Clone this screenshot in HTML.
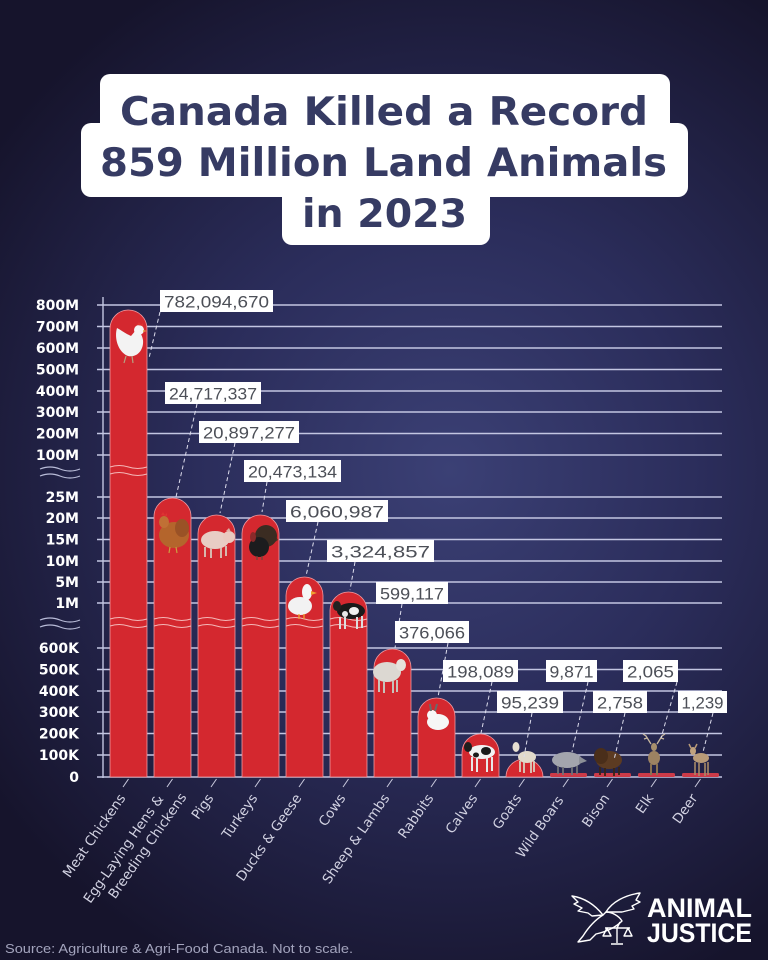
<!DOCTYPE html>
<html><head><meta charset="utf-8"><style>
html,body{margin:0;padding:0;background:#1a1838;}
svg{display:block;}
</style></head><body>
<svg width="768" height="960" viewBox="0 0 768 960" xmlns="http://www.w3.org/2000/svg">
<defs>
<radialGradient id="bg" cx="450" cy="470" r="560" gradientUnits="userSpaceOnUse">
<stop offset="0" stop-color="#3b4075"/>
<stop offset="0.45" stop-color="#2b2d5b"/>
<stop offset="1" stop-color="#16142c"/>
</radialGradient>
</defs>
<rect width="768" height="960" fill="url(#bg)"/>

<!-- Title boxes -->
<g fill="#ffffff">
<rect x="100" y="74" width="570" height="72" rx="10"/>
<rect x="81" y="123" width="607" height="74" rx="10"/>
<rect x="282" y="180" width="208" height="65" rx="10"/>
</g>
<g font-family="'DejaVu Sans','Liberation Sans',sans-serif" font-weight="bold" font-size="39" fill="#363b63">
<text x="120" y="125" textLength="528" lengthAdjust="spacingAndGlyphs">Canada Killed a Record</text>
<text x="100" y="176" textLength="567" lengthAdjust="spacingAndGlyphs">859 Million Land Animals</text>
<text x="302" y="227" textLength="165" lengthAdjust="spacingAndGlyphs">in 2023</text>
</g>

<!-- gridlines -->
<g stroke="#c3c6e2" stroke-width="1.4">
<line x1="97" y1="305" x2="722" y2="305"/>
<line x1="97" y1="326.5" x2="722" y2="326.5"/>
<line x1="97" y1="348" x2="722" y2="348"/>
<line x1="97" y1="369.5" x2="722" y2="369.5"/>
<line x1="97" y1="391" x2="722" y2="391"/>
<line x1="97" y1="412" x2="722" y2="412"/>
<line x1="97" y1="433.5" x2="722" y2="433.5"/>
<line x1="97" y1="455" x2="722" y2="455"/>
<line x1="97" y1="497" x2="722" y2="497"/>
<line x1="97" y1="518" x2="722" y2="518"/>
<line x1="97" y1="539.5" x2="722" y2="539.5"/>
<line x1="97" y1="561" x2="722" y2="561"/>
<line x1="97" y1="582" x2="722" y2="582"/>
<line x1="97" y1="603" x2="722" y2="603"/>
<line x1="97" y1="648" x2="722" y2="648"/>
<line x1="97" y1="669.5" x2="722" y2="669.5"/>
<line x1="97" y1="691" x2="722" y2="691"/>
<line x1="97" y1="712" x2="722" y2="712"/>
<line x1="97" y1="733.5" x2="722" y2="733.5"/>
<line x1="97" y1="755" x2="722" y2="755"/>
<line x1="97" y1="777" x2="722" y2="777"/>
<line x1="103" y1="297" x2="103" y2="778"/>
</g>

<!-- y labels -->
<g font-family="'DejaVu Sans','Liberation Sans',sans-serif" font-weight="bold" font-size="14" fill="#ffffff" text-anchor="end">
<text x="79" y="310">800M</text>
<text x="79" y="331.5">700M</text>
<text x="79" y="353">600M</text>
<text x="79" y="374.5">500M</text>
<text x="79" y="396">400M</text>
<text x="79" y="417">300M</text>
<text x="79" y="438.5">200M</text>
<text x="79" y="460">100M</text>
<text x="79" y="502">25M</text>
<text x="79" y="523">20M</text>
<text x="79" y="544.5">15M</text>
<text x="79" y="566">10M</text>
<text x="79" y="587">5M</text>
<text x="79" y="608">1M</text>
<text x="79" y="653">600K</text>
<text x="79" y="674.5">500K</text>
<text x="79" y="696">400K</text>
<text x="79" y="717">300K</text>
<text x="79" y="738.5">200K</text>
<text x="79" y="760">100K</text>
<text x="79" y="782">0</text>
</g>
<!-- axis break waves -->
<g fill="none" stroke="#b9bcd8" stroke-width="1.2">
<path d="M40,469 q10,-4 20,0 t20,0"/>
<path d="M40,476 q10,-4 20,0 t20,0"/>
<path d="M40,620 q10,-4 20,0 t20,0"/>
<path d="M40,627 q10,-4 20,0 t20,0"/>
</g>

<!-- bars -->
<g fill="#d4282f" stroke="#ef9aa2" stroke-width="0.8">
<path d="M110 777 V328.5 A18.5 18.5 0 0 1 147 328.5 V777 Z"/>
<path d="M154 777 V516.5 A18.5 18.5 0 0 1 191 516.5 V777 Z"/>
<path d="M198 777 V533.5 A18.5 18.5 0 0 1 235 533.5 V777 Z"/>
<path d="M242 777 V533.5 A18.5 18.5 0 0 1 279 533.5 V777 Z"/>
<path d="M286 777 V595.5 A18.5 18.5 0 0 1 323 595.5 V777 Z"/>
<path d="M330 777 V610.5 A18.5 18.5 0 0 1 367 610.5 V777 Z"/>
<path d="M374 777 V667.5 A18.5 18.5 0 0 1 411 667.5 V777 Z"/>
<path d="M418 777 V716.5 A18.5 18.5 0 0 1 455 716.5 V777 Z"/>
<path d="M462 777 V752.5 A18.5 18.5 0 0 1 499 752.5 V777 Z"/>
<path d="M506 777 A18.5 18 0 0 1 543 777 Z"/>
</g>
<g fill="#cc3a48">
<rect x="550" y="773" width="37" height="4" rx="1.5"/>
<rect x="594" y="773" width="37" height="4" rx="1.5"/>
<rect x="638" y="773" width="37" height="4" rx="1.5"/>
<rect x="682" y="773" width="37" height="4" rx="1.5"/>
</g>

<!-- bar waves -->
<g fill="none" stroke="#f4b7b7" stroke-width="1">
<path d="M110,467 q9.25,-3 18.5,0 t18.5,0"/>
<path d="M110,474 q9.25,-3 18.5,0 t18.5,0"/>
<path d="M110,619 q9.25,-3 18.5,0 t18.5,0"/><path d="M110,626 q9.25,-3 18.5,0 t18.5,0"/>
<path d="M154,619 q9.25,-3 18.5,0 t18.5,0"/><path d="M154,626 q9.25,-3 18.5,0 t18.5,0"/>
<path d="M198,619 q9.25,-3 18.5,0 t18.5,0"/><path d="M198,626 q9.25,-3 18.5,0 t18.5,0"/>
<path d="M242,619 q9.25,-3 18.5,0 t18.5,0"/><path d="M242,626 q9.25,-3 18.5,0 t18.5,0"/>
<path d="M286,619 q9.25,-3 18.5,0 t18.5,0"/><path d="M286,626 q9.25,-3 18.5,0 t18.5,0"/>
<path d="M330,619 q9.25,-3 18.5,0 t18.5,0"/><path d="M330,626 q9.25,-3 18.5,0 t18.5,0"/>
</g>

<!-- animals -->
<!-- white chicken -->
<g>
<path d="M117,328 C114,338 118,352 128,356 C137,358 144,350 143,340 C142,334 139,331 136,330 L131,336 C126,334 121,330 117,328 Z" fill="#f3f3f3"/>
<circle cx="139" cy="330" r="5" fill="#f5f5f5"/>
<path d="M137,325 l2,-3 l2,3 l2,-2 l0,3 z" fill="#d33"/>
<path d="M143,330 l4,1 l-4,1 z" fill="#e0b050"/>
<path d="M126,356 l-2,7 M132,356 l1,7" stroke="#b8a080" stroke-width="1.2"/>
</g>
<!-- brown hen -->
<g>
<ellipse cx="174" cy="535" rx="15" ry="13" fill="#b4652c"/>
<ellipse cx="182" cy="528" rx="7" ry="9" fill="#9a5226"/>
<ellipse cx="164" cy="522" rx="5" ry="6" fill="#c07035"/>
<path d="M161,515 l2,-3 l2,3 l2,-2 l0,3 z" fill="#d33"/>
<path d="M170,547 l-1,6 M176,547 l1,6" stroke="#c9a040" stroke-width="1.2"/>
</g>
<!-- pig -->
<g>
<ellipse cx="215" cy="540" rx="14" ry="9" fill="#e8cdc4"/>
<ellipse cx="229" cy="537" rx="6" ry="6" fill="#eac9bf"/>
<path d="M226,531 l3,-3 l2,4 z" fill="#ddb0a5"/>
<path d="M205,547 v10 M211,548 v10 M221,548 v10 M226,546 v10" stroke="#d8b8ae" stroke-width="2"/>
</g>
<!-- turkey -->
<g>
<path d="M250,545 A15,15 0 0 1 278,540 L266,548 Z" fill="#4a3526"/>
<circle cx="266" cy="536" r="11" fill="#3b2c22"/>
<ellipse cx="259" cy="547" rx="10" ry="10" fill="#1c1c1e"/>
<ellipse cx="253" cy="537" rx="3" ry="5" fill="#8a2a2a"/>
<path d="M257,556 v4 M262,556 v4" stroke="#6a4a3a" stroke-width="1.2"/>
</g>
<!-- duck -->
<g>
<ellipse cx="300" cy="606" rx="12" ry="9" fill="#f2f2f2"/>
<ellipse cx="307" cy="592" rx="5" ry="8" fill="#f5f5f5"/>
<path d="M311,591 l6,2 l-6,2 z" fill="#f0a030"/>
<path d="M299,614 v5 M304,614 v5" stroke="#f0a030" stroke-width="1.3"/>
</g>
<!-- cow -->
<g>
<ellipse cx="351" cy="611" rx="14" ry="8" fill="#1a1a1a"/>
<ellipse cx="354" cy="611" rx="5" ry="4" fill="#f0f0f0"/>
<ellipse cx="345" cy="614" rx="3" ry="3" fill="#e8e8e8"/>
<ellipse cx="337" cy="606" rx="4" ry="5" fill="#222"/>
<path d="M340,617 v12 M345,617 v12 M357,617 v12 M362,616 v12" stroke="#ddd" stroke-width="2"/>
</g>
<!-- sheep -->
<g>
<ellipse cx="387" cy="672" rx="14" ry="10" fill="#dcd8d2"/>
<ellipse cx="401" cy="665" rx="5" ry="6" fill="#e6e2dc"/>
<path d="M379,680 v12 M384,681 v12 M393,681 v12 M397,680 v12" stroke="#c8c2ba" stroke-width="2"/>
</g>
<!-- rabbit -->
<g>
<ellipse cx="438" cy="722" rx="11" ry="8" fill="#f6f6f6"/>
<circle cx="432" cy="715" r="5" fill="#f8f8f8"/>
<path d="M431,711 l-1,-7 M435,711 l2,-7" stroke="#6a6a6a" stroke-width="2"/>
</g>
<!-- calf -->
<g>
<ellipse cx="482" cy="752" rx="13" ry="7" fill="#f2f2f2"/>
<ellipse cx="486" cy="751" rx="5" ry="4" fill="#1a1a1a"/>
<ellipse cx="476" cy="755" rx="3" ry="2.5" fill="#1a1a1a"/>
<ellipse cx="468" cy="747" rx="4" ry="5" fill="#1e1e1e"/>
<path d="M472,757 v14 M477,758 v14 M487,758 v14 M492,757 v14" stroke="#e8e8e8" stroke-width="2"/>
</g>
<!-- goat -->
<g>
<ellipse cx="527" cy="757" rx="9" ry="6" fill="#e2dacb"/>
<ellipse cx="516" cy="747" rx="3.5" ry="5" fill="#e6dfd2"/>
<path d="M520,761 v11 M524,762 v11 M531,762 v11 M534,761 v11" stroke="#d8cfbf" stroke-width="1.8"/>
</g>
<!-- wild boar -->
<g>
<ellipse cx="567" cy="760" rx="15" ry="8" fill="#a3a5ad"/>
<path d="M579,756 l8,5 l-8,3 z" fill="#8d9098"/>
<path d="M558,766 v8 M563,767 v8 M572,767 v8 M577,766 v8" stroke="#707278" stroke-width="1.8"/>
</g>
<!-- bison -->
<g>
<ellipse cx="609" cy="760" rx="13" ry="9" fill="#5c3b22"/>
<ellipse cx="601" cy="756" rx="7" ry="8" fill="#4a2e1a"/>
<path d="M600,767 v8 M605,768 v8 M614,768 v8 M619,767 v8" stroke="#3a2414" stroke-width="1.8"/>
</g>
<!-- elk -->
<g>
<path d="M651,744 l-5,-8 l-3,-2 M647,738 l-3,1 M657,744 l5,-8 l3,-2 M661,738 l3,1" stroke="#c8b8a0" stroke-width="1.3" fill="none"/>
<ellipse cx="654" cy="747" rx="3" ry="4" fill="#a8906c"/>
<ellipse cx="654" cy="758" rx="6" ry="7" fill="#9c8262"/>
<path d="M651,764 v11 M657,764 v11" stroke="#8a7252" stroke-width="2"/>
</g>
<!-- deer -->
<g>
<ellipse cx="701" cy="758" rx="8" ry="5" fill="#b99b78"/>
<ellipse cx="693" cy="751" rx="3" ry="4" fill="#c0a27e"/>
<path d="M691,748 l-2,-4 M695,748 l2,-4" stroke="#b99b78" stroke-width="1.5"/>
<path d="M695,762 v13 M699,763 v13 M705,763 v13 M708,762 v13" stroke="#a88a68" stroke-width="1.6"/>
</g>

<!-- leader dashes -->
<g stroke="#dcdcec" stroke-width="1" stroke-dasharray="4 3" fill="none">
<line x1="160" y1="312" x2="149" y2="358"/>
<line x1="197" y1="404" x2="176" y2="497"/>
<line x1="235" y1="443" x2="220" y2="513"/>
<line x1="267" y1="482" x2="262" y2="512"/>
<line x1="318" y1="522" x2="306" y2="576"/>
<line x1="355" y1="562" x2="350" y2="590"/>
<line x1="402" y1="604" x2="395" y2="648"/>
<line x1="448" y1="643" x2="438" y2="697"/>
<line x1="492" y1="682" x2="481" y2="733"/>
<line x1="532" y1="713" x2="524" y2="757"/>
<line x1="588" y1="682" x2="572" y2="752"/>
<line x1="625" y1="713" x2="614" y2="760"/>
<line x1="677" y1="682" x2="661" y2="738"/>
<line x1="713" y1="713" x2="703" y2="752"/>
</g>

<!-- value boxes -->
<g fill="#ffffff">
<rect x="160" y="290" width="113" height="22"/>
<rect x="165" y="382" width="96" height="22"/>
<rect x="199" y="421" width="100" height="22"/>
<rect x="244" y="460" width="97" height="22"/>
<rect x="286" y="500" width="102" height="22"/>
<rect x="327" y="540" width="107" height="22"/>
<rect x="376" y="582" width="72" height="22"/>
<rect x="395" y="621" width="74" height="22"/>
<rect x="443" y="660" width="75" height="22"/>
<rect x="497" y="691" width="66" height="22"/>
<rect x="546" y="660" width="51" height="22"/>
<rect x="593" y="691" width="54" height="22"/>
<rect x="623" y="660" width="55" height="22"/>
<rect x="678" y="691" width="49" height="22"/>
</g>
<g font-family="'Liberation Sans',sans-serif" font-size="17" fill="#4c4f57" text-anchor="middle" lengthAdjust="spacingAndGlyphs">
<text x="216.5" y="307.5" textLength="105" lengthAdjust="spacingAndGlyphs">782,094,670</text>
<text x="213" y="399.5" textLength="88" lengthAdjust="spacingAndGlyphs">24,717,337</text>
<text x="249" y="438.5" textLength="92" lengthAdjust="spacingAndGlyphs">20,897,277</text>
<text x="292.5" y="477.5" textLength="89" lengthAdjust="spacingAndGlyphs">20,473,134</text>
<text x="337" y="517.5" textLength="94" lengthAdjust="spacingAndGlyphs">6,060,987</text>
<text x="380.5" y="557.5" textLength="99" lengthAdjust="spacingAndGlyphs">3,324,857</text>
<text x="412" y="599.5" textLength="64" lengthAdjust="spacingAndGlyphs">599,117</text>
<text x="432" y="638.5" textLength="66" lengthAdjust="spacingAndGlyphs">376,066</text>
<text x="480.5" y="677.5" textLength="67" lengthAdjust="spacingAndGlyphs">198,089</text>
<text x="530" y="708.5" textLength="58" lengthAdjust="spacingAndGlyphs">95,239</text>
<text x="571.5" y="677.5" textLength="44" lengthAdjust="spacingAndGlyphs">9,871</text>
<text x="620" y="708.5" textLength="46" lengthAdjust="spacingAndGlyphs">2,758</text>
<text x="650.5" y="677.5" textLength="47" lengthAdjust="spacingAndGlyphs">2,065</text>
<text x="702.5" y="708.5" textLength="42" lengthAdjust="spacingAndGlyphs">1,239</text>
</g>

<!-- x label ticks -->
<g stroke="#c8c8dc" stroke-width="1">
<line x1="128.5" y1="779" x2="123" y2="787"/>
<line x1="172.5" y1="779" x2="167" y2="787"/>
<line x1="216.5" y1="779" x2="211" y2="787"/>
<line x1="260.5" y1="779" x2="255" y2="787"/>
<line x1="304.5" y1="779" x2="299" y2="787"/>
<line x1="348.5" y1="779" x2="343" y2="787"/>
<line x1="392.5" y1="779" x2="387" y2="787"/>
<line x1="436.5" y1="779" x2="431" y2="787"/>
<line x1="480.5" y1="779" x2="475" y2="787"/>
<line x1="524.5" y1="779" x2="519" y2="787"/>
<line x1="568.5" y1="779" x2="563" y2="787"/>
<line x1="612.5" y1="779" x2="607" y2="787"/>
<line x1="656.5" y1="779" x2="651" y2="787"/>
<line x1="700.5" y1="779" x2="695" y2="787"/>
</g>
<!-- x labels -->
<g font-family="'DejaVu Sans','Liberation Sans',sans-serif" font-size="13.5" fill="#d2d2e2" text-anchor="end">
<text transform="translate(126,798) rotate(-55)">Meat Chickens</text>
<text transform="translate(164,799) rotate(-55)">Egg-Laying Hens &amp;</text>
<text transform="translate(187,797) rotate(-55)">Breeding Chickens</text>
<text transform="translate(214,798) rotate(-55)">Pigs</text>
<text transform="translate(258,798) rotate(-55)">Turkeys</text>
<text transform="translate(302,798) rotate(-55)">Ducks &amp; Geese</text>
<text transform="translate(346,798) rotate(-55)">Cows</text>
<text transform="translate(390,798) rotate(-55)">Sheep &amp; Lambs</text>
<text transform="translate(434,798) rotate(-55)">Rabbits</text>
<text transform="translate(478,798) rotate(-55)">Calves</text>
<text transform="translate(522,798) rotate(-55)">Goats</text>
<text transform="translate(564,800) rotate(-55)">Wild Boars</text>
<text transform="translate(610,798) rotate(-55)">Bison</text>
<text transform="translate(654,798) rotate(-55)">Elk</text>
<text transform="translate(698,798) rotate(-55)">Deer</text>
</g>

<!-- source -->
<text x="5" y="953" font-family="'Liberation Sans',sans-serif" font-size="13" fill="#a3a4bd" textLength="348" lengthAdjust="spacingAndGlyphs">Source: Agriculture &amp; Agri-Food Canada. Not to scale.</text>

<!-- logo -->
<g fill="none" stroke="#ffffff" stroke-width="1.4" stroke-linejoin="round">
<path d="M603,915 C595,905 585,898 572,896 L578,902 L574,904 L582,908 L578,911 L588,913 L592,916 Z"/>
<path d="M606,912 C612,902 625,895 640,893 L636,900 L640,902 L632,906 L634,909 L622,912 Z"/>
<path d="M603,915 C595,920 588,928 583,936 L578,942 L590,940 L596,934 C605,932 615,928 622,921 C619,916 612,912 606,912 Z"/>
<path d="M620,922 L617,928 M605,928 L630,928 M617,928 L617,943 M611,944 L623,944"/>
<path d="M607,928 L603,936 L611,936 Z M628,928 L624,936 L632,936 Z"/>
</g>
<g font-family="'Liberation Sans',sans-serif" font-weight="bold" font-size="27" fill="#ffffff">
<text x="647" y="917" textLength="105" lengthAdjust="spacingAndGlyphs">ANIMAL</text>
<text x="647" y="942" textLength="105" lengthAdjust="spacingAndGlyphs">JUSTICE</text>
</g>
</svg>
</body></html>
